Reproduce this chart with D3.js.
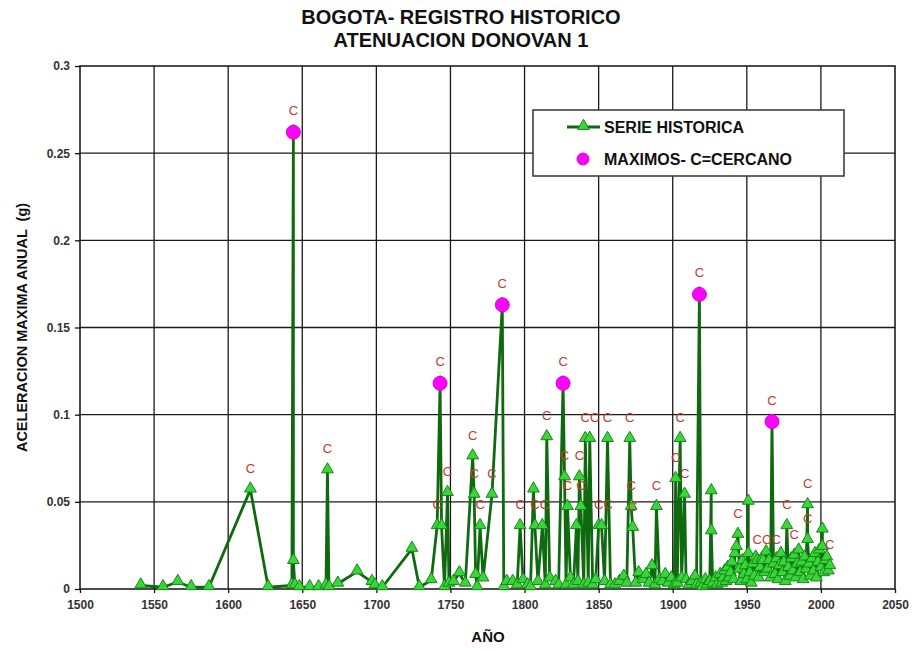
<!DOCTYPE html>
<html>
<head>
<meta charset="utf-8">
<script src="https://cdn.jsdelivr.net/npm/d3@7"></script>
<style>
  html, body { margin: 0; padding: 0; background: #fff; }
  svg { display: block; font-family: "Liberation Sans", Arial, sans-serif; }
</style>
</head>
<body>
<svg id="chart" width="917" height="650"></svg>
<script>
// Annual maximum acceleration series (year, value in g, "C" = near-field event flag)
const years = [
  1541, 1556, 1566, 1575, 1587, 1615, 1627, 1643, 1644, 1644,
  1645, 1648, 1655, 1661, 1666, 1667, 1668, 1674, 1687, 1697,
  1699, 1704, 1724, 1729, 1737, 1741, 1743, 1744, 1746, 1748,
  1749, 1752, 1756, 1760, 1765, 1766, 1767, 1768, 1770, 1772,
  1778, 1785, 1786, 1788, 1792, 1795, 1797, 1799, 1802, 1804,
  1806, 1807, 1809, 1812, 1814, 1815, 1817, 1821, 1823, 1826,
  1827, 1828, 1829, 1831, 1833, 1835, 1836, 1837, 1838, 1840,
  1841, 1843, 1844, 1846, 1848, 1850, 1852, 1854, 1856, 1858,
  1861, 1864, 1867, 1869, 1871, 1872, 1873, 1875, 1877, 1880,
  1882, 1884, 1886, 1888, 1889, 1891, 1893, 1895, 1897, 1899,
  1901, 1902, 1903, 1905, 1906, 1908, 1909, 1911, 1913, 1915,
  1916, 1918, 1919, 1920, 1922, 1923, 1925, 1926, 1926, 1927,
  1929, 1930, 1932, 1933, 1934, 1935, 1936, 1937, 1938, 1939,
  1940, 1941, 1942, 1943, 1944, 1945, 1946, 1947, 1948, 1949,
  1950, 1951, 1951, 1952, 1953, 1954, 1955, 1956, 1957, 1958,
  1959, 1960, 1961, 1962, 1963, 1964, 1965, 1966, 1967, 1968,
  1969, 1970, 1971, 1972, 1973, 1974, 1975, 1976, 1977, 1978,
  1979, 1980, 1981, 1982, 1983, 1984, 1985, 1986, 1987, 1988,
  1989, 1990, 1991, 1991, 1992, 1993, 1994, 1995, 1996, 1997,
  1998, 1999, 2000, 2001, 2001, 2002, 2003, 2004, 2005, 2006
];
const accel = [
  0.002, 0.001, 0.004, 0.001, 0.001, 0.057, 0.001, 0.002, 0.262, 0.016,
  0.002, 0.001, 0.001, 0.001, 0.002, 0.068, 0.001, 0.003, 0.010, 0.004,
  0.002, 0.001, 0.023, 0.001, 0.005, 0.036, 0.118, 0.036, 0.001, 0.055,
  0.003, 0.004, 0.009, 0.003, 0.076, 0.054, 0.008, 0.001, 0.036, 0.006,
  0.054, 0.163, 0.001, 0.004, 0.004, 0.002, 0.036, 0.005, 0.002, 0.001,
  0.057, 0.036, 0.004, 0.036, 0.002, 0.087, 0.006, 0.004, 0.002, 0.118,
  0.064, 0.002, 0.047, 0.006, 0.002, 0.036, 0.004, 0.064, 0.047, 0.002,
  0.086, 0.003, 0.086, 0.002, 0.005, 0.036, 0.036, 0.004, 0.086, 0.002,
  0.002, 0.004, 0.007, 0.003, 0.086, 0.047, 0.035, 0.003, 0.009, 0.005,
  0.008, 0.003, 0.013, 0.002, 0.047, 0.005, 0.004, 0.008, 0.003, 0.006,
  0.002, 0.063, 0.003, 0.086, 0.006, 0.054, 0.005, 0.002, 0.004, 0.007,
  0.002, 0.169, 0.003, 0.001, 0.005, 0.002, 0.004, 0.056, 0.033, 0.003,
  0.006, 0.002, 0.008, 0.003, 0.006, 0.010, 0.004, 0.012, 0.006, 0.009,
  0.015, 0.005, 0.020, 0.024, 0.031, 0.011, 0.004, 0.016, 0.008, 0.013,
  0.005, 0.050, 0.020, 0.009, 0.003, 0.014, 0.007, 0.018, 0.016, 0.006,
  0.012, 0.017, 0.016, 0.009, 0.021, 0.011, 0.016, 0.006, 0.096, 0.014,
  0.008, 0.017, 0.005, 0.013, 0.020, 0.009, 0.015, 0.004, 0.036, 0.012,
  0.007, 0.017, 0.010, 0.019, 0.006, 0.014, 0.022, 0.009, 0.015, 0.005,
  0.018, 0.011, 0.048, 0.028, 0.014, 0.007, 0.017, 0.010, 0.020, 0.006,
  0.015, 0.022, 0.012, 0.034, 0.024, 0.009, 0.016, 0.018, 0.010, 0.013
];
const near = [
  0, 0, 0, 0, 0, 1, 0, 0, 1, 0,
  0, 0, 0, 0, 0, 1, 0, 0, 0, 0,
  0, 0, 0, 0, 0, 1, 1, 0, 0, 1,
  0, 0, 0, 0, 1, 1, 0, 0, 1, 0,
  1, 1, 0, 0, 0, 0, 1, 0, 0, 0,
  0, 1, 0, 1, 0, 1, 0, 0, 0, 1,
  1, 0, 1, 0, 0, 0, 0, 1, 1, 0,
  1, 0, 1, 0, 0, 1, 1, 0, 1, 0,
  0, 0, 0, 0, 1, 1, 1, 0, 0, 0,
  0, 0, 0, 0, 1, 0, 0, 0, 0, 0,
  0, 1, 0, 1, 0, 1, 0, 0, 0, 0,
  0, 1, 0, 0, 0, 0, 0, 0, 0, 0,
  0, 0, 0, 0, 0, 0, 0, 0, 0, 0,
  0, 0, 0, 0, 1, 0, 0, 0, 0, 0,
  0, 0, 0, 0, 0, 0, 0, 0, 1, 0,
  0, 0, 1, 0, 0, 0, 1, 0, 1, 0,
  0, 0, 0, 0, 0, 0, 0, 0, 1, 0,
  0, 0, 0, 1, 0, 0, 0, 0, 0, 0,
  0, 0, 1, 1, 0, 0, 0, 0, 0, 0,
  0, 0, 0, 0, 0, 0, 0, 0, 0, 1
];

// Peak values (maxima) highlighted in magenta
const maxYears = [1644, 1743, 1785, 1826, 1918, 1967];
const maxValues = [0.262, 0.118, 0.163, 0.118, 0.169, 0.096];

// Axis ticks
const xTicks = [1500, 1550, 1600, 1650, 1700, 1750, 1800, 1850, 1900, 1950, 2000, 2050];
const yTicks = [0, 0.05, 0.1, 0.15, 0.2, 0.25, 0.3];
const yTickLabels = ["0", "0.05", "0.1", "0.15", "0.2", "0.25", "0.3"];

const titleLines = ["BOGOTA- REGISTRO HISTORICO", "ATENUACION DONOVAN 1"];
const legendLabels = ["SERIE HISTORICA", "MAXIMOS- C=CERCANO"];

const svg = d3.select("#chart");
const plot = { left: 80, right: 895, top: 66, bottom: 589 };

const x = d3.scaleLinear().domain([1500, 2050]).range([plot.left, plot.right]);
const y = d3.scaleLinear().domain([0, 0.3]).range([plot.bottom, plot.top]);

const lineColor = "#0f6a0f";
const markerFill = "#3cd43c";
const markerStroke = "#138a13";
const labelColor = "#c23a30";

// Title
svg.append("g").selectAll("text").data(titleLines).join("text")
  .attr("x", 461).attr("y", (d, i) => 24 + i * 23)
  .attr("text-anchor", "middle")
  .attr("font-size", 20).attr("font-weight", "bold").attr("fill", "#111")
  .text(d => d);

// Grid
const grid = svg.append("g");
grid.selectAll("line.v").data(xTicks.slice(1, -1)).join("line")
  .attr("x1", d => x(d)).attr("x2", d => x(d))
  .attr("y1", plot.top).attr("y2", plot.bottom)
  .attr("stroke", "#1a1a1a").attr("stroke-width", 1.3);
grid.selectAll("line.h").data(yTicks.slice(1, -1)).join("line")
  .attr("x1", plot.left).attr("x2", plot.right)
  .attr("y1", d => y(d)).attr("y2", d => y(d))
  .attr("stroke", "#1a1a1a").attr("stroke-width", 1.3);

svg.append("rect")
  .attr("x", plot.left).attr("y", plot.top)
  .attr("width", plot.right - plot.left).attr("height", plot.bottom - plot.top)
  .attr("fill", "none").attr("stroke", "#111").attr("stroke-width", 1.5);

// Axes
const xAxis = svg.append("g").attr("transform", `translate(0,${plot.bottom})`)
  .call(d3.axisBottom(x).tickValues(xTicks).tickFormat(d3.format("d")).tickSize(4).tickPadding(7));
const yAxis = svg.append("g").attr("transform", `translate(${plot.left},0)`)
  .call(d3.axisLeft(y).tickValues(yTicks).tickFormat((d, i) => yTickLabels[i]).tickSize(5).tickPadding(5));
[xAxis, yAxis].forEach(g => {
  g.select(".domain").remove();
  g.selectAll(".tick line").attr("stroke", "#111").attr("stroke-width", 1.3);
  g.selectAll(".tick text").attr("font-size", 12).attr("font-weight", "bold")
    .attr("fill", "#333").attr("font-family", "Liberation Sans, Arial, sans-serif");
});

// Axis titles
svg.append("text").attr("x", 488).attr("y", 642)
  .attr("text-anchor", "middle").attr("font-size", 15).attr("font-weight", "bold").attr("fill", "#111")
  .text("AÑO");
svg.append("text")
  .attr("transform", `translate(27,${(plot.top + plot.bottom) / 2}) rotate(-90)`)
  .attr("text-anchor", "middle").attr("font-size", 14.5).attr("font-weight", "bold").attr("fill", "#111")
  .attr("xml:space", "preserve")
  .text("ACELERACION MAXIMA ANUAL  (g)");

// Series
const pts = years.map((yr, i) => ({ year: yr, v: accel[i], c: near[i] }));
const line = d3.line().x(d => x(d.year)).y(d => y(d.v));
svg.append("path").datum(pts)
  .attr("d", line).attr("fill", "none")
  .attr("stroke", lineColor).attr("stroke-width", 2.8).attr("stroke-linejoin", "round");

const tri = d3.symbol().type(d3.symbolTriangle).size(60);
svg.append("g").selectAll("path").data(pts).join("path")
  .attr("d", tri)
  .attr("transform", d => `translate(${x(d.year)},${y(d.v) - 1})`)
  .attr("fill", markerFill).attr("stroke", markerStroke).attr("stroke-width", 1);

// Maxima
svg.append("g").selectAll("circle").data(maxYears).join("circle")
  .attr("cx", d => x(d)).attr("cy", (d, i) => y(maxValues[i]))
  .attr("r", 7).attr("fill", "#ff00ff").attr("stroke", "#e000e0").attr("stroke-width", 1);

// "C" labels for near-field events; labels that would sit on top of one
// another are pushed sideways so they read as "CC", "CCC"
const labelW = 9.5, labelH = 10;
const labels = pts.filter(d => d.c)
  .map(d => ({ lx: x(d.year), ly: y(d.v) - 17 }))
  .sort((a, b) => a.lx - b.lx);
const placed = [];
labels.forEach(l => {
  let moved = true;
  while (moved) {
    moved = false;
    for (const p of placed) {
      if (Math.abs(p.ly - l.ly) < labelH && Math.abs(p.lx - l.lx) < labelW) {
        l.lx = p.lx + labelW;
        moved = true;
      }
    }
  }
  placed.push(l);
});
svg.append("g").selectAll("text").data(placed).join("text")
  .attr("x", d => d.lx).attr("y", d => d.ly)
  .attr("text-anchor", "middle").attr("font-size", 13).attr("fill", labelColor)
  .text("C");

// Legend
const lg = svg.append("g");
lg.append("rect").attr("x", 533).attr("y", 110).attr("width", 311).attr("height", 66)
  .attr("fill", "#fff").attr("stroke", "#333").attr("stroke-width", 1.5);
lg.append("line").attr("x1", 567).attr("x2", 600).attr("y1", 127).attr("y2", 127)
  .attr("stroke", lineColor).attr("stroke-width", 2.8);
lg.append("path").attr("d", tri).attr("transform", "translate(583.5,126)")
  .attr("fill", markerFill).attr("stroke", markerStroke).attr("stroke-width", 1);
lg.append("circle").attr("cx", 583).attr("cy", 159).attr("r", 6)
  .attr("fill", "#ff00ff").attr("stroke", "#e000e0");
lg.selectAll("text").data(legendLabels).join("text")
  .attr("x", 604).attr("y", (d, i) => 133 + i * 32)
  .attr("font-size", 16).attr("font-weight", "bold").attr("fill", "#111")
  .text(d => d);
</script>
</body>
</html>
